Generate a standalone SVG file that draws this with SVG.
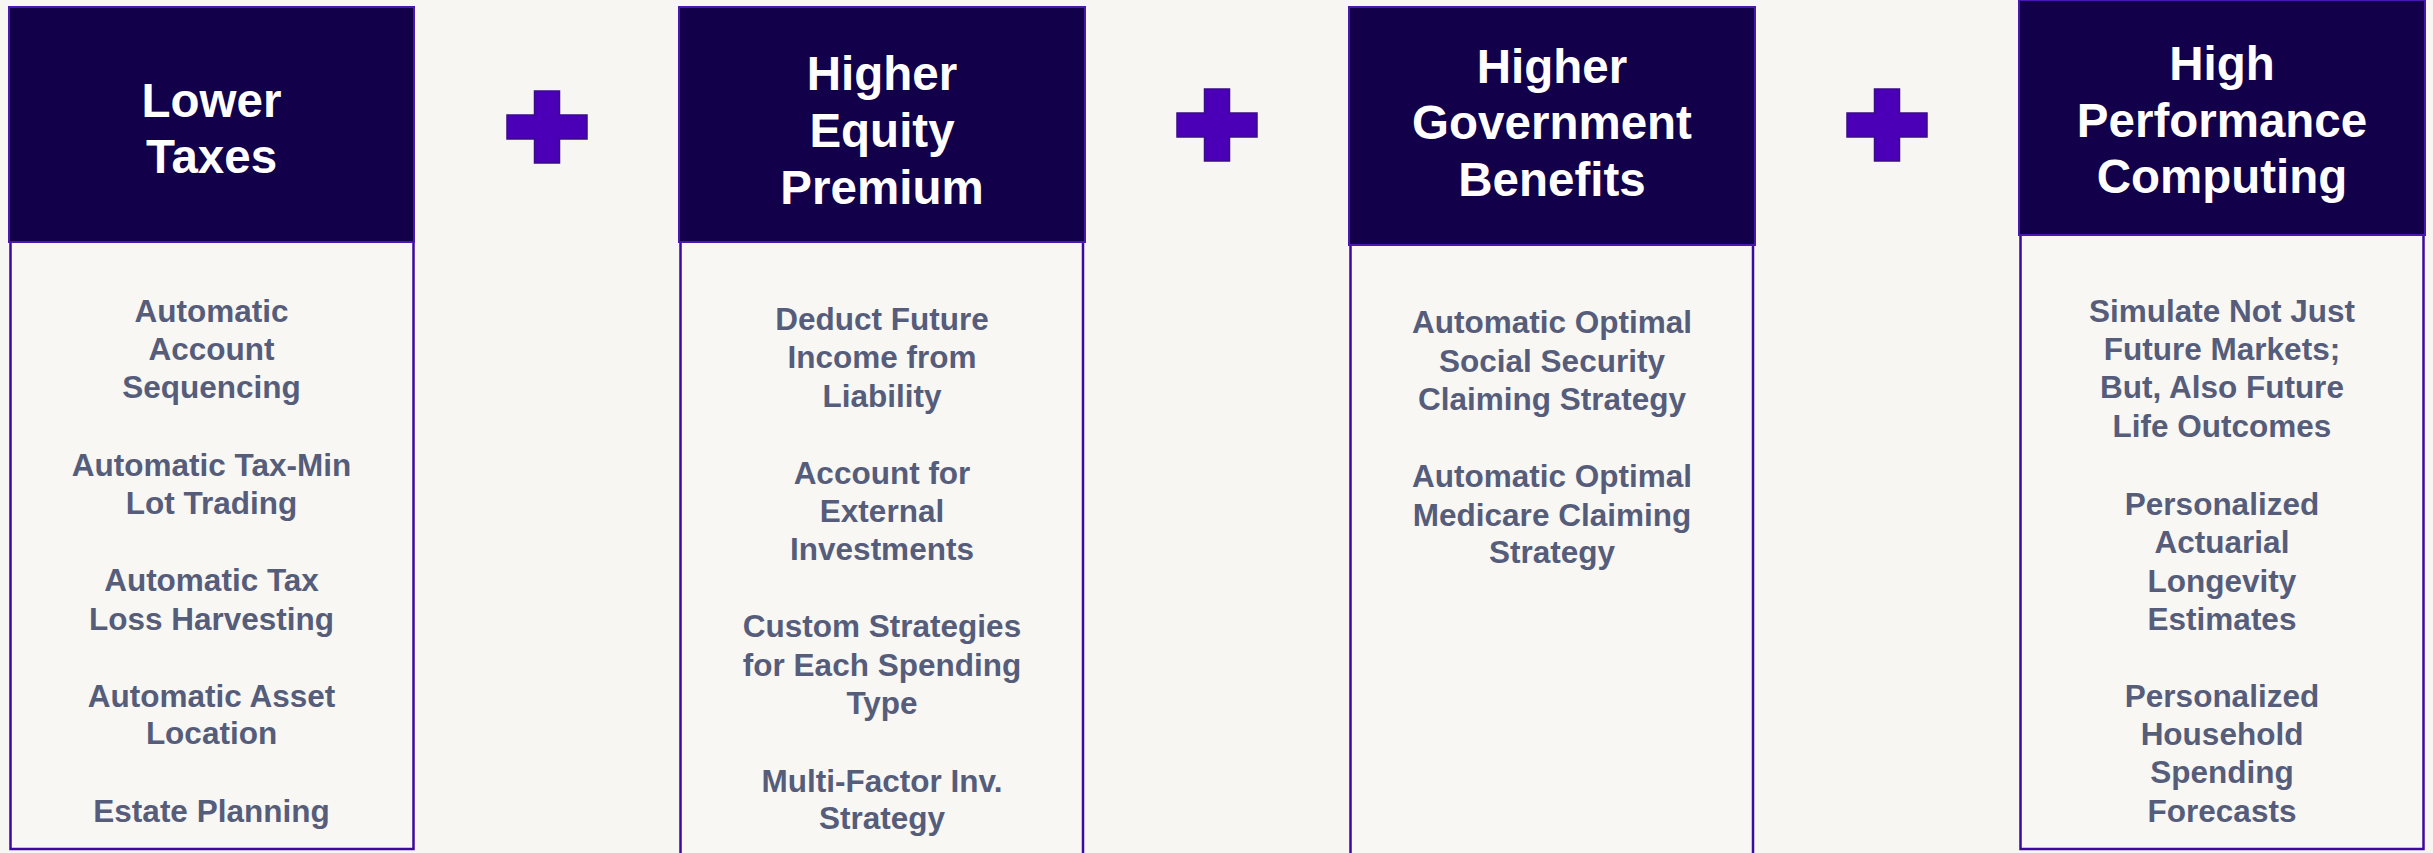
<svg xmlns="http://www.w3.org/2000/svg" width="2433" height="853" viewBox="0 0 2433 853">
  <style>
    .bg { fill: #F7F6F2; }
    .head { fill: #12004A; stroke: #4A18B0; stroke-width: 2; }
    .body { fill: #F8F7F4; stroke: #3C0A9E; stroke-width: 2.5; }
    .title { font-family: "Liberation Sans", Arial, sans-serif; font-weight: bold; font-size: 47.5px; fill: #FFFFFF; text-anchor: middle; }
    .item { font-family: "Liberation Sans", Arial, sans-serif; font-weight: bold; font-size: 31.5px; fill: #565D7A; text-anchor: middle; }
    .plus { fill: #4B00B8; stroke: #3A0C88; stroke-width: 1.5; }
  </style>
  <defs>
    <!-- plus sign centred on the origin -->
    <path id="plusShape" d="M -12.5 -36 H 12.5 V -12 H 40 V 12 H 12.5 V 36 H -12.5 V 12 H -40 V -12 H -12.5 Z"/>
  </defs>

  <rect class="bg" x="0" y="0" width="2433" height="853"/>

  <!-- Column 1: Lower Taxes -->
  <g id="lower-taxes">
    <rect class="body" x="10.5" y="241" width="403" height="608"/>
    <rect class="head" x="9" y="7" width="405" height="235"/>
    <text class="title" x="211.5" y="117">Lower</text>
    <text class="title" x="211.5" y="173">Taxes</text>
    <text class="item" x="211.5" y="322">Automatic</text>
    <text class="item" x="211.5" y="360">Account</text>
    <text class="item" x="211.5" y="398">Sequencing</text>
    <text class="item" x="211.5" y="476">Automatic Tax-Min</text>
    <text class="item" x="211.5" y="514">Lot Trading</text>
    <text class="item" x="211.5" y="591">Automatic Tax</text>
    <text class="item" x="211.5" y="630">Loss Harvesting</text>
    <text class="item" x="211.5" y="707">Automatic Asset</text>
    <text class="item" x="211.5" y="744">Location</text>
    <text class="item" x="211.5" y="822">Estate Planning</text>
  </g>

  <!-- Column 2: Higher Equity Premium -->
  <g id="higher-equity-premium">
    <rect class="body" x="680.5" y="241" width="402.5" height="625"/>
    <rect class="head" x="679" y="7" width="406" height="235"/>
    <text class="title" x="882" y="90">Higher</text>
    <text class="title" x="882" y="147">Equity</text>
    <text class="title" x="882" y="204">Premium</text>
    <text class="item" x="882" y="330">Deduct Future</text>
    <text class="item" x="882" y="368">Income from</text>
    <text class="item" x="882" y="407">Liability</text>
    <text class="item" x="882" y="484">Account for</text>
    <text class="item" x="882" y="522">External</text>
    <text class="item" x="882" y="560">Investments</text>
    <text class="item" x="882" y="637">Custom Strategies</text>
    <text class="item" x="882" y="676">for Each Spending</text>
    <text class="item" x="882" y="714">Type</text>
    <text class="item" x="882" y="792">Multi-Factor Inv.</text>
    <text class="item" x="882" y="829">Strategy</text>
  </g>

  <!-- Column 3: Higher Government Benefits -->
  <g id="higher-government-benefits">
    <rect class="body" x="1350.5" y="244" width="402.5" height="622"/>
    <rect class="head" x="1349" y="7" width="406" height="238"/>
    <text class="title" x="1552" y="83">Higher</text>
    <text class="title" x="1552" y="139">Government</text>
    <text class="title" x="1552" y="196">Benefits</text>
    <text class="item" x="1552" y="333">Automatic Optimal</text>
    <text class="item" x="1552" y="372">Social Security</text>
    <text class="item" x="1552" y="410">Claiming Strategy</text>
    <text class="item" x="1552" y="487">Automatic Optimal</text>
    <text class="item" x="1552" y="526">Medicare Claiming</text>
    <text class="item" x="1552" y="563">Strategy</text>
  </g>

  <!-- Column 4: High Performance Computing -->
  <g id="high-performance-computing">
    <rect class="body" x="2020.5" y="234" width="403" height="615"/>
    <rect class="head" x="2019" y="0" width="406" height="235"/>
    <text class="title" x="2222" y="80">High</text>
    <text class="title" x="2222" y="137">Performance</text>
    <text class="title" x="2222" y="193">Computing</text>
    <text class="item" x="2222" y="322">Simulate Not Just</text>
    <text class="item" x="2222" y="360">Future Markets;</text>
    <text class="item" x="2222" y="398">But, Also Future</text>
    <text class="item" x="2222" y="437">Life Outcomes</text>
    <text class="item" x="2222" y="515">Personalized</text>
    <text class="item" x="2222" y="553">Actuarial</text>
    <text class="item" x="2222" y="592">Longevity</text>
    <text class="item" x="2222" y="630">Estimates</text>
    <text class="item" x="2222" y="707">Personalized</text>
    <text class="item" x="2222" y="745">Household</text>
    <text class="item" x="2222" y="783">Spending</text>
    <text class="item" x="2222" y="822">Forecasts</text>
  </g>

  <!-- plus operators between the columns -->
  <g id="operators">
    <use href="#plusShape" class="plus" transform="translate(547 127)"/>
    <use href="#plusShape" class="plus" transform="translate(1217 125)"/>
    <use href="#plusShape" class="plus" transform="translate(1887 125)"/>
  </g>
</svg>
